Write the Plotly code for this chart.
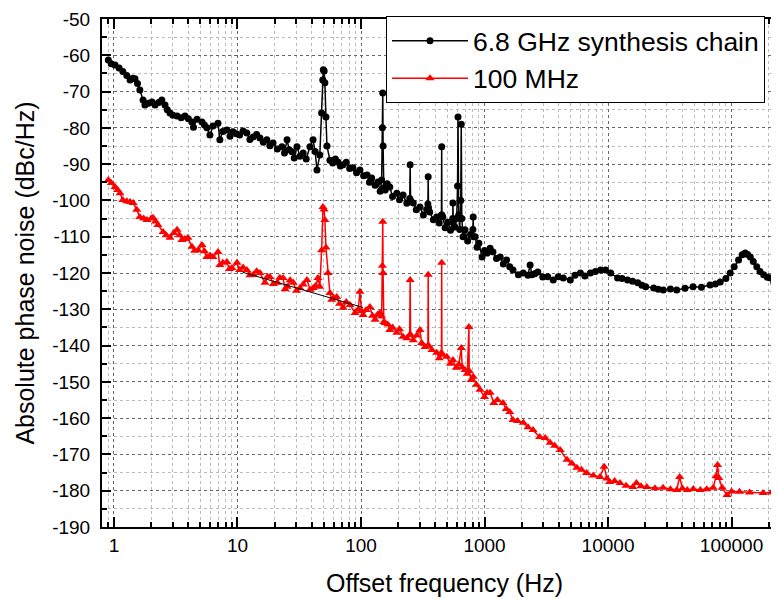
import plotly.graph_objects as go

# ---- data ----
chain_freq = [0.9, 0.95, 1.02, 1.1, 1.18, 1.27, 1.35, 1.42, 1.48, 1.55, 1.62, 1.72, 1.78, 1.9, 2.03, 2.15, 2.3, 2.44,
              2.59, 2.7, 2.84, 3.0, 3.24, 3.5, 3.76, 4.0, 4.28, 4.4, 4.7, 5.16, 5.4, 5.65, 5.98, 6.33, 6.95, 7.2, 7.6,
              8.2, 8.7, 9.2, 9.8, 10.4, 11.1, 11.9, 12.6, 13.4, 14.3, 15.2, 16.2, 17.3, 18.3, 19.4, 21, 22.9, 24, 25.2,
              26.2, 27.6, 28.8, 30.3, 32, 34.0, 36, 38.6, 40.9, 42.5, 44, 46.4, 48, 49, 49.5, 50.3, 51, 52, 53, 56, 59,
              62, 65, 68, 71.6, 76, 81, 86, 92, 98, 105, 112, 117, 122, 130, 137, 143, 147, 149, 150, 151, 153, 157,
              163, 171, 180, 195, 205, 219, 235, 248, 250, 252, 265, 280, 300, 320, 340, 348, 350, 352, 360, 385, 410,
              430, 448, 450, 452, 460, 480, 505, 530, 553, 555, 558, 575, 595, 605, 610, 618, 630, 642, 648, 655, 670,
              695, 730, 770, 805, 810, 815, 840, 870, 900, 955, 1000, 1050, 1110, 1170, 1250, 1340, 1420, 1510, 1600,
              1700, 1880, 2060, 2250, 2340, 2420, 2550, 2700, 2960, 3250, 3600, 3950, 4340, 4950, 5400, 5970, 6500,
              7200, 7900, 8700, 9550, 10500, 11950, 13000, 14400, 15800, 17400, 18800, 20200, 23400, 25500, 28000,
              32000, 36000, 42000, 48800, 57000, 67000, 74000, 81000, 90000, 97600, 105000, 114000, 122000, 129000,
              135000, 142000, 150000, 160000, 170000, 182000, 195000, 206000, 220000, 233000, 245000]
chain_dbc = [-61.3, -62.3, -62.7, -63.5, -64.5, -65.6, -66.8, -66.3, -66.5, -67.8, -69.6, -72.3, -73.7, -73.2, -72.9,
             -73.7, -73.0, -72.3, -73.7, -75.0, -75.9, -76.5, -76.7, -77.2, -76.7, -77.5, -78.4, -79.8, -77.6, -78.4,
             -79.2, -80.0, -82.0, -79.5, -78.7, -83.3, -81.0, -80.6, -82.3, -81.1, -81.6, -82.0, -80.9, -81.4, -83.2,
             -82.5, -81.8, -82.8, -84.0, -83.3, -84.9, -84.2, -85.8, -85.2, -86.9, -83.3, -86.0, -86.6, -88.3, -85.2,
             -87.8, -86.9, -88.6, -85.2, -83.3, -86.5, -91.6, -87.5, -75.9, -66.8, -64.0, -64.3, -67.6, -77, -85,
             -88.9, -89.7, -88.6, -89.4, -90.5, -90.2, -89.5, -91.2, -91.0, -92.4, -91.6, -93.2, -93.0, -95.0, -93.8,
             -95.8, -94.9, -97.5, -94.4, -80, -70.4, -85, -96.5, -97.1, -95.4, -96.3, -98.9, -98.0, -99.8, -98.5,
             -100.8, -99.5, -90.2, -100, -100.7, -102.6, -101.8, -104.0, -102.5, -101, -93.5, -102, -103.2, -105.3,
             -104.6, -106.2, -104, -85.2, -104, -104.6, -107.5, -106, -108.2, -105, -100.7, -106, -107.3, -105, -96,
             -77.0, -104, -108, -100, -79.0, -105, -110, -108.1, -111.2, -109.4, -108, -104.6, -110, -110, -112.9,
             -111.8, -115.6, -113.8, -114.5, -113.2, -114.2, -116.0, -115.6, -117.5, -116.4, -118.3, -119.2, -120.5,
             -120.0, -120.6, -117.8, -120.5, -120.2, -119.7, -121.1, -121.0, -121.9, -121.0, -121.4, -121.9, -120.6,
             -120.0, -120.8, -120.0, -119.6, -119.2, -119.2, -120.0, -121.4, -121.5, -121.9, -122.3, -122.7, -123.4,
             -123.8, -124.1, -124.5, -124.7, -124.4, -124.7, -124.2, -123.8, -123.9, -123.3, -123.0, -122.5, -121.5,
             -120.0, -118.3, -116.4, -115.0, -114.5, -114.9, -115.6, -116.8, -118.3, -119.6, -120.5, -121.2, -121.4,
             -122.7, -123.8, -124.7]

ref_freq = [0.9, 0.95, 1.02, 1.07, 1.12, 1.18, 1.27, 1.35, 1.43, 1.53, 1.62, 1.74, 1.85, 2.0, 2.07, 2.17, 2.27, 2.5,
            2.65, 2.84, 3.05, 3.24, 3.4, 3.55, 3.75, 3.97, 4.28, 4.5, 4.79, 5.16, 5.4, 5.65, 6.0, 6.33, 6.95, 7.2, 7.6,
            8.2, 8.6, 9.0, 9.9, 10.4, 11.1, 11.9, 12.6, 13.4, 14.3, 15.2, 16.7, 17.5, 18.3, 19.5, 21, 22, 23.4, 24.3,
            25.2, 26.7, 28.3, 30, 32, 34, 36.5, 38.7, 41, 43, 44.8, 46.4, 48, 49.2, 50.2, 51, 52, 54, 56, 58, 60, 63.6,
            67, 71.6, 76, 81.5, 89.5, 95, 98, 101, 104, 110, 118, 124, 130, 136, 142, 147, 149, 150, 151, 153, 157,
            165, 171, 180, 195, 205, 219, 235, 248, 250, 252, 265, 283, 300, 310, 330, 348, 350, 352, 375, 410, 430,
            448, 450, 452, 495, 530, 555, 590, 620, 648, 660, 695, 725, 748, 752, 780, 810, 860, 920, 1000, 1050, 1110,
            1190, 1270, 1410, 1500, 1600, 1700, 1850, 2060, 2250, 2470, 2800, 3100, 3400, 3700, 4100, 4660, 5100,
            5600, 6100, 6700, 7600, 8600, 9300, 9800, 10300, 11300, 12500, 14000, 15900, 17000, 18500, 20600, 24000,
            27900, 32000, 36000, 38000, 40000, 43800, 49000, 55900, 63000, 71000, 75000, 77000, 79000, 84000, 92000,
            100000, 116000, 140000, 180000, 210000, 239000]
ref_dbc = [-94.4, -95.2, -96.3, -97.1, -98.0, -99.9, -100.2, -100.4, -100.7, -102.6, -104.6, -105.0, -105.4, -105.0,
           -104.8, -105.8, -106.8, -108.7, -109.6, -110.3, -109.0, -108.1, -109.6, -110.9, -110.6, -110.3, -112.8,
           -113.9, -113.7, -112.3, -114.0, -115.6, -115.2, -115.6, -114.2, -117.8, -117.2, -117.0, -118.9, -118.6,
           -117.2, -119.2, -118.5, -119.2, -120.6, -120.5, -119.5, -120.0, -122.7, -121.0, -121.1, -123.0, -122.7,
           -121.3, -121.4, -124.5, -123.8, -122.0, -122.7, -124.9, -124.1, -123.2, -121.9, -124.6, -124.1, -123.5,
           -121.4, -123.8, -113.7, -101.8, -102.5, -105.4, -113, -120, -125.5, -127.4, -126.8, -126.6, -128.5,
           -129.6, -128.0, -128.8, -131.0, -130.0, -125.2, -130.5, -131.6, -130.2, -129.4, -131.8, -132.9, -131.5,
           -131.0, -132, -118, -105.9, -120, -133.5, -133.8, -134.2, -135.7, -135.0, -136.5, -135.5, -137.6, -138.0,
           -137, -121.9, -137, -138.5, -137.2, -135.7, -139.3, -140.4, -140, -120.5, -140, -141.2, -142.0, -143.5,
           -142, -117.2, -142.5, -143.1, -145.0, -144.0, -146.1, -145.2, -140.7, -146, -146.7, -147.8, -134.9, -147,
           -149.5, -148.6, -150.8, -152.2, -154.2, -153.0, -153.0, -155.8, -155.0, -155.8, -157.5, -158.3, -160.5,
           -160.8, -161.3, -162.5, -163.3, -165.2, -165.5, -166.8, -167.6, -168.8, -171.5, -172.5, -173.7, -174.2,
           -175.1, -175.8, -176.2, -173.4, -176.6, -177.6, -177.3, -177.9, -178.6, -179.0, -177.9, -178.8, -179.0,
           -179.3, -179.2, -179.6, -179.8, -176.2, -179.4, -179.8, -179.5, -179.8, -179.6, -179.2, -176, -172.9,
           -176.5, -179.2, -181.2, -180.2, -180.3, -180.5, -180.6, -180.5, -180.6]

fit_freq = [11, 104]
fit_dbc = [-119.8, -129.5]

x_tickvals = [1, 10, 100, 1000, 10000, 100000]
x_ticktext = ["1", "10", "100", "1000", "10000", "100000"]
y_tickvals = list(range(-190, -49, 10))
y_ticktext = [str(v) for v in y_tickvals]

FONT = "Arial, Liberation Sans, sans-serif"

fig = go.Figure()
fig.add_trace(go.Scatter(x=chain_freq, y=chain_dbc, mode="lines+markers", name="6.8 GHz synthesis chain",
                         line=dict(color="black", width=1.5),
                         marker=dict(symbol="circle", size=7, color="black")))
fig.add_trace(go.Scatter(x=ref_freq, y=ref_dbc, mode="lines+markers", name="100 MHz",
                         line=dict(color="#ff0000", width=1.5),
                         marker=dict(symbol="triangle-up", size=8, color="#ff0000")))
fig.add_trace(go.Scatter(x=fit_freq, y=fit_dbc, mode="lines", showlegend=False,
                         line=dict(color="black", width=1)))

fig.update_layout(
    width=779, height=599,
    margin=dict(l=94, r=0, t=11, b=80, autoexpand=False),
    plot_bgcolor="white", paper_bgcolor="white",
    font=dict(family=FONT, color="black"),
    showlegend=True,
    legend=dict(x=0.4146, y=1.006, xanchor="left", yanchor="top",
                bgcolor="white", bordercolor="black", borderwidth=1,
                font=dict(size=26.5, family=FONT), itemwidth=76,
                tracegroupgap=0),
)
fig.update_xaxes(
    type="log", range=[-0.097, 5.449], automargin=False,
    tickvals=x_tickvals, ticktext=x_ticktext,
    tickfont=dict(size=19, family=FONT), ticklabelstandoff=0,
    ticks="inside", ticklen=10, tickwidth=1.5, tickcolor="black",
    showline=True, linecolor="black", linewidth=2, mirror="ticks",
    showgrid=True, gridcolor="#666666", griddash="dot", gridwidth=1,
    minor=dict(dtick="D1", ticks="inside", ticklen=5, tickcolor="black",
               showgrid=True, gridcolor="#bbbbbb", griddash="dot", gridwidth=1),
    zeroline=False,
    title=dict(text="Offset frequency (Hz)", font=dict(size=25, family=FONT), standoff=20),
)
fig.update_yaxes(
    range=[-190, -50], automargin=False,
    tickvals=y_tickvals, ticktext=y_ticktext,
    tickfont=dict(size=19, family=FONT), ticklabelstandoff=6,
    ticks="inside", ticklen=9, tickwidth=1.5, tickcolor="black",
    showline=True, linecolor="black", linewidth=2,
    showgrid=True, gridcolor="#666666", griddash="dot", gridwidth=1,
    minor=dict(dtick=5, ticks="inside", ticklen=5, tickcolor="black",
               showgrid=True, gridcolor="#bbbbbb", griddash="dot", gridwidth=1),
    zeroline=False,
    title=dict(text="Absolute phase noise (dBc/Hz)", font=dict(size=25, family=FONT), standoff=10),
)

fig.write_html("out.html")
